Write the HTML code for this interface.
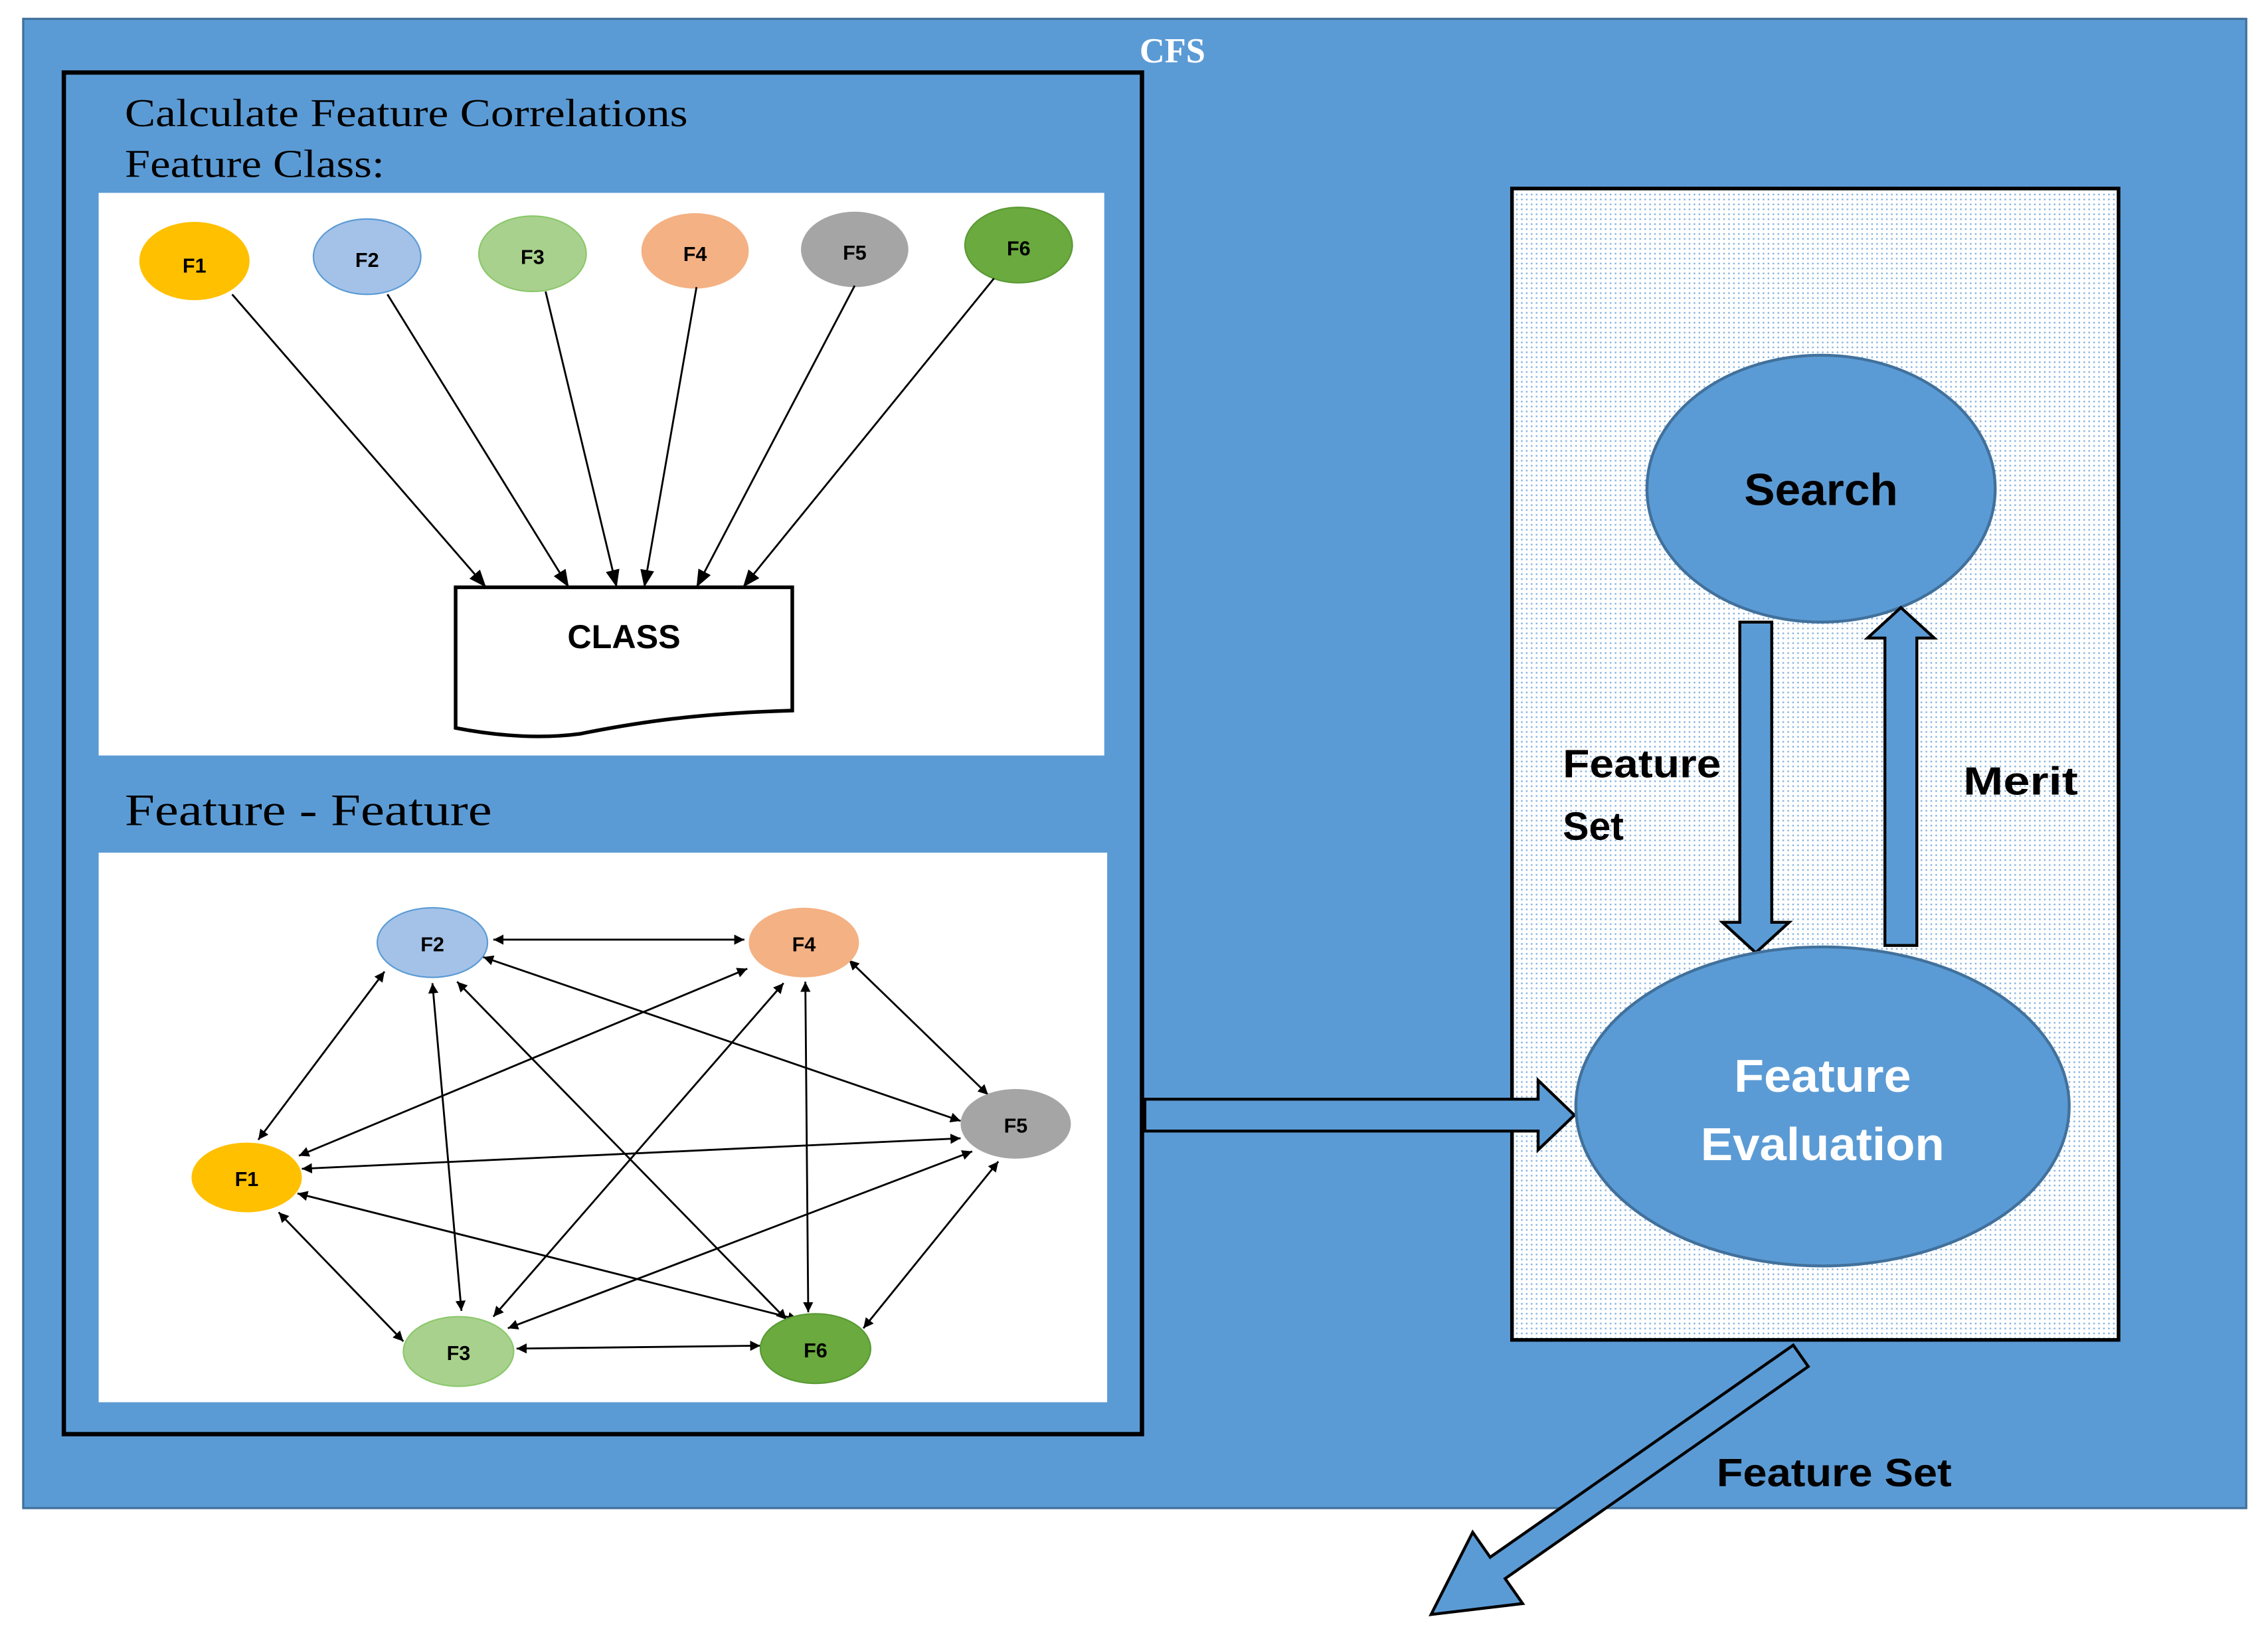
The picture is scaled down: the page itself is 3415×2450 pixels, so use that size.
<!DOCTYPE html>
<html><head><meta charset="utf-8"><style>html,body{margin:0;padding:0;background:#fff}svg{display:block}</style></head>
<body>
<svg width="3415" height="2450" viewBox="0 0 1563 1122" preserveAspectRatio="none" xmlns="http://www.w3.org/2000/svg">
<defs>
<pattern id="dots" width="3.4" height="3.4" patternUnits="userSpaceOnUse">
<rect width="3.4" height="3.4" fill="#fff"/><rect x="1" y="1" width="1.1" height="1.1" fill="#7fb0e0"/>
</pattern>
<marker id="ah" viewBox="0 0 10 10" refX="10" refY="5" markerWidth="7" markerHeight="7" orient="auto-start-reverse" markerUnits="userSpaceOnUse">
<path d="M0,0 L10,5 L0,10 z" fill="#000"/>
</marker>
<marker id="ah2" viewBox="0 0 10 10" refX="10" refY="5" markerWidth="12" markerHeight="12" orient="auto-start-reverse" markerUnits="userSpaceOnUse">
<path d="M0,1 L10,5 L0,9 z" fill="#000"/>
</marker>
</defs>
<rect x="0" y="0" width="1563" height="1122" fill="#fff"/>
<rect x="16" y="13" width="1532" height="1027" fill="#5B9BD5" stroke="#41719C" stroke-width="1.5"/>
<text x="808" y="43" font-family="Liberation Serif, serif" font-weight="bold" font-size="24" fill="#fff" text-anchor="middle">CFS</text>

<rect x="44" y="50" width="743" height="939" fill="none" stroke="#000" stroke-width="3"/>
<g font-family="Liberation Serif, serif" fill="#000">
<text x="86" y="87" font-size="27" textLength="388" lengthAdjust="spacingAndGlyphs">Calculate Feature Correlations</text>
<text x="86" y="122" font-size="27" textLength="179" lengthAdjust="spacingAndGlyphs">Feature Class:</text>
<text x="86" y="569" font-size="31" textLength="253" lengthAdjust="spacingAndGlyphs">Feature - Feature</text>
</g>
<rect x="68" y="133" width="693" height="388" fill="#fff"/>
<rect x="68" y="588" width="695" height="379" fill="#fff"/>

<g font-family="Liberation Sans, sans-serif" font-weight="bold" font-size="14" text-anchor="middle" fill="#000">
<ellipse cx="134" cy="180" rx="38" ry="27" fill="#FFC000"/><text x="134" y="188">F1</text>
<ellipse cx="253" cy="177" rx="37" ry="26" fill="#A4C2E8" stroke="#5B9BD5"/><text x="253" y="184">F2</text>
<ellipse cx="367" cy="175" rx="37" ry="26" fill="#A9D18E" stroke="#8BC86B"/><text x="367" y="182">F3</text>
<ellipse cx="479" cy="173" rx="37" ry="26" fill="#F4B183"/><text x="479" y="180">F4</text>
<ellipse cx="589" cy="172" rx="37" ry="26" fill="#A5A5A5"/><text x="589" y="179">F5</text>
<ellipse cx="702" cy="169" rx="37" ry="26" fill="#6AAA3E" stroke="#5a9a35"/><text x="702" y="176">F6</text>
</g>
<g stroke="#000" stroke-width="1.3" marker-end="url(#ah2)">
<line x1="160" y1="203" x2="335" y2="405"/>
<line x1="267" y1="203" x2="392" y2="405"/>
<line x1="376" y1="201" x2="425" y2="405"/>
<line x1="480" y1="198" x2="444" y2="405"/>
<line x1="589" y1="197" x2="480" y2="405"/>
<line x1="685" y1="192" x2="512" y2="405"/>
</g>
<path d="M314,405 H546 V490 C480,492 440,498 400,506 C370,510 340,507 314,502 Z" fill="#fff" stroke="#000" stroke-width="2.5"/>
<text x="430" y="447" font-family="Liberation Sans, sans-serif" font-weight="bold" font-size="23" text-anchor="middle">CLASS</text>

<g stroke="#000" stroke-width="1.3" marker-start="url(#ah)" marker-end="url(#ah)">
<line x1="340" y1="648" x2="513" y2="648"/>
<line x1="265" y1="670" x2="178" y2="786"/>
<line x1="298" y1="678" x2="318" y2="904"/>
<line x1="315" y1="677" x2="542" y2="910"/>
<line x1="333" y1="660" x2="662" y2="773"/>
<line x1="515" y1="668" x2="206" y2="797"/>
<line x1="540" y1="678" x2="340" y2="908"/>
<line x1="555" y1="677" x2="557" y2="905"/>
<line x1="585" y1="662" x2="681" y2="755"/>
<line x1="208" y1="806" x2="662" y2="785"/>
<line x1="205" y1="823" x2="550" y2="910"/>
<line x1="192" y1="836" x2="278" y2="925"/>
<line x1="356" y1="930" x2="524" y2="928"/>
<line x1="350" y1="916" x2="670" y2="794"/>
<line x1="595" y1="916" x2="688" y2="801"/>
</g>
<g font-family="Liberation Sans, sans-serif" font-weight="bold" font-size="14" text-anchor="middle" fill="#000">
<ellipse cx="298" cy="650" rx="38" ry="24" fill="#A4C2E8" stroke="#5B9BD5"/><text x="298" y="656">F2</text>
<ellipse cx="554" cy="650" rx="38" ry="24" fill="#F4B183"/><text x="554" y="656">F4</text>
<ellipse cx="700" cy="775" rx="38" ry="24" fill="#A5A5A5"/><text x="700" y="781">F5</text>
<ellipse cx="170" cy="812" rx="38" ry="24" fill="#FFC000"/><text x="170" y="818">F1</text>
<ellipse cx="316" cy="932" rx="38" ry="24" fill="#A9D18E" stroke="#8BC86B"/><text x="316" y="938">F3</text>
<ellipse cx="562" cy="930" rx="38" ry="24" fill="#6AAA3E" stroke="#5a9a35"/><text x="562" y="936">F6</text>
</g>

<rect x="1042" y="130" width="418" height="794" fill="url(#dots)" stroke="#000" stroke-width="2.5"/>
<polygon points="789,758 1060,758 1060,745 1085,769 1060,793 1060,780 789,780" fill="#5B9BD5" stroke="#000" stroke-width="2"/>
<ellipse cx="1255" cy="337" rx="120" ry="92" fill="#5B9BD5" stroke="#41719C" stroke-width="2"/>
<text x="1255" y="340" font-family="Liberation Sans, sans-serif" font-weight="bold" font-size="31" text-anchor="middle" dominant-baseline="middle" textLength="106" lengthAdjust="spacingAndGlyphs">Search</text>
<polygon points="1199,429 1221,429 1221,636 1233,636 1210,657 1187,636 1199,636" fill="#5B9BD5" stroke="#000" stroke-width="2"/>
<polygon points="1299,652 1321,652 1321,440 1333,440 1310,419 1287,440 1299,440" fill="#5B9BD5" stroke="#000" stroke-width="2"/>
<ellipse cx="1256" cy="763" rx="170" ry="110" fill="#5B9BD5" stroke="#41719C" stroke-width="2"/>
<g font-family="Liberation Sans, sans-serif" font-weight="bold" fill="#000">
<text x="1256" y="753" font-size="32" text-anchor="middle" fill="#fff" textLength="122" lengthAdjust="spacingAndGlyphs">Feature</text>
<text x="1256" y="800" font-size="32" text-anchor="middle" fill="#fff" textLength="168" lengthAdjust="spacingAndGlyphs">Evaluation</text>
<text x="1077" y="536" font-size="27" textLength="109" lengthAdjust="spacingAndGlyphs">Feature</text>
<text x="1077" y="579" font-size="27">Set</text>
<text x="1353" y="548" font-size="27" textLength="79" lengthAdjust="spacingAndGlyphs">Merit</text>
<text x="1183" y="1025" font-size="27" textLength="162" lengthAdjust="spacingAndGlyphs">Feature Set</text>
</g>
<polygon transform="translate(1241,935) rotate(145)" points="0,-9 255,-9 255,-30 311,0 255,30 255,9 0,9" fill="#5B9BD5" stroke="#000" stroke-width="2"/>
</svg>
</body></html>
